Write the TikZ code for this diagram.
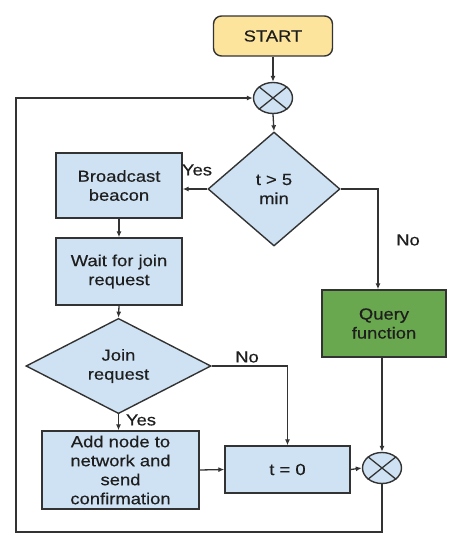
\documentclass[tikz,border=0pt]{standalone}
\usepackage{fontspec}
\setmainfont{Liberation Sans}[FakeStretch=1.15,FakeBold=0.4]
\usetikzlibrary{shapes.geometric,arrows.meta}
\definecolor{linec}{HTML}{333333}
\definecolor{bluef}{HTML}{CFE2F3}
\definecolor{yellowf}{HTML}{FCE49C}
\definecolor{greenf}{HTML}{6AA84F}
\definecolor{textc}{HTML}{1E1E1E}
\begin{document}
\begin{tikzpicture}[x=1pt,y=-1pt,
  base/.style={draw=linec,line width=1.4pt,align=center,inner sep=0pt,text=textc,font=\fontsize{16}{19}\selectfont},
  proc/.style={base,fill=bluef},
  decis/.style={base,fill=bluef,shape=diamond},
  junct/.style={draw=linec,line width=1.4pt,fill=bluef,shape=ellipse,minimum width=39pt,minimum height=31pt,inner sep=0pt},
  conn/.style={draw=linec,line width=1.3pt},
  arr/.style={conn,-{Latex[length=6pt,width=5pt]}},
  lbl/.style={text=textc,font=\fontsize{16}{19}\selectfont,inner sep=0pt}]
\useasboundingbox[fill=white] (0,0) rectangle (460,550);
\node[base,fill=yellowf,rounded corners=8pt,minimum width=119pt,minimum height=40pt] (start) at (273,36) {START};
\node[junct] (c1) at (273,98) {};
\draw[line width=1.3pt,draw=linec] (c1.north west) -- (c1.south east) (c1.north east) -- (c1.south west);
\node[decis,minimum width=132pt,minimum height=114pt] (dec) at (274,189) {t > 5\\min};
\node[proc,minimum width=126pt,minimum height=65pt] (bc) at (119,185.5) {Broadcast\\beacon};
\node[proc,minimum width=126pt,minimum height=67pt] (wait) at (119,271.5) {Wait for join\\request};
\node[decis,minimum width=185pt,minimum height=82pt] (join) at (118.5,366) {Join\\request};
\node[proc,minimum width=157pt,minimum height=78pt] (add) at (120.5,470) {Add node to\\network and\\send\\confirmation};
\node[proc,minimum width=125pt,minimum height=47pt] (t0) at (287.5,469.5) {t = 0};
\node[base,fill=greenf,minimum width=124pt,minimum height=67pt] (query) at (384,323.5) {Query\\function};
\node[junct] (c2) at (382,468) {};
\draw[line width=1.3pt,draw=linec] (c2.north west) -- (c2.south east) (c2.north east) -- (c2.south west);
\coordinate (lb) at (16,532);
\coordinate (lt) at (16,98);
% connectors
\draw[arr] (start.south) -- (c1.north);
\draw[arr] (c1.south) -- (dec.north);
\draw[arr] (dec.west) -- (dec.west -| bc.east);
\draw[arr] (dec.east) -| ([xshift=-6pt]query.north);
\draw[arr] (bc.south) -- (wait.north);
\draw[arr] (wait.south) -- (join.north);
\draw[arr] (join.south) -- (join.south |- add.north);
\draw[arr] (join.east) -| (t0.north);
\draw[arr] (add.east) -- (t0.west);
\draw[arr] (t0.east) -- (c2.west);
\draw[arr] (query.south -| c2.north) -- (c2.north);
\draw[arr] (c2.south) |- (lb) -- (lt) -- (c1.west);
% labels
\node[lbl] (yes1) at (197,170) {Yes};
\node[lbl] (no1) at (408,240) {No};
\node[lbl] (no2) at (247,357) {No};
\node[lbl] (yes2) at (141,420) {Yes};
\end{tikzpicture}
\end{document}
